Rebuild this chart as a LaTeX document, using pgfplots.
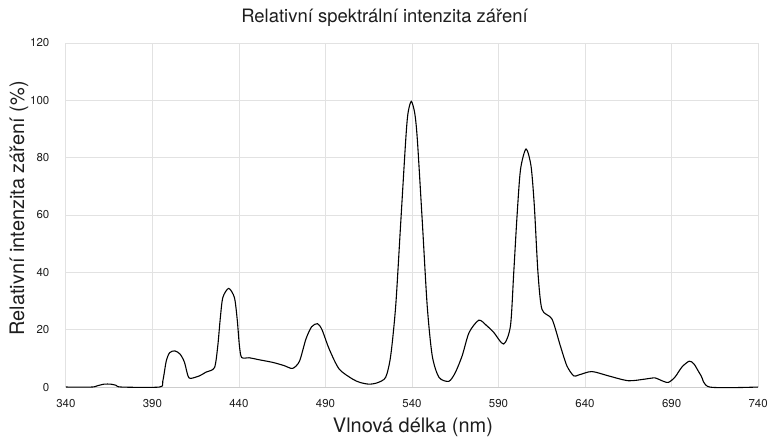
\documentclass[border=0pt]{standalone}
\usepackage{fontspec}
\setmainfont{TeX Gyre Heros}
\usepackage{pgfplots}
\pgfplotsset{compat=1.18}
\definecolor{gridc}{RGB}{226,226,226}
\definecolor{axc}{RGB}{205,205,205}
\definecolor{txt}{RGB}{30,30,30}
\begin{document}
\begin{tikzpicture}[x=1pt,y=1pt]
\path (0,0) rectangle (771,442);
\begin{axis}[
  at={(66pt,54pt)}, anchor=south west,
  scale only axis, width=694pt, height=345pt,
  xmin=340, xmax=740, ymin=0, ymax=120,
  xtick={340,390,...,740}, ytick={0,20,...,120},
  axis x line*=bottom, axis y line*=left,
  x axis line style={draw=axc, line width=0.8pt, -},
  y axis line style={draw=none},
  grid=major, major grid style={draw=gridc, line width=0.7pt},
  tick style={draw=none},
  /pgf/number format/assume math mode=true,
  ticklabel style={font=\fontsize{11.5}{13}\selectfont, text=txt},
  xticklabel style={anchor=center, yshift=-17pt},
  yticklabel style={anchor=east, xshift=-13pt},
  clip=false,
]
\addplot[black, line width=1.1pt, smooth, tension=0.45] coordinates {
(340,0) (355,0) (358,0.4) (362,1.0) (366,1.0) (369,0.6) (372,0) (394,0)
(396,2) (398,9) (400,12) (403,12.6) (406,11.5) (408.5,8.7) (410.5,4) (412,3.0)
(417.2,3.9) (421,5.2) (425.9,6.8) (427.8,14.4) (429.2,23.7) (430.7,31.2) (434.1,34.4)
(437.4,31.2) (439,23.7) (440.3,14.4) (441.6,10.3) (446,10.2) (451.8,9.5)
(459.5,8.6) (466,7.5) (471,6.5)
(475,9) (478.7,16.7) (482,21) (485.4,22.1) (488,20) (492.2,13.2) (497.9,6.3)
(505.6,2.8) (510,1.6) (515.2,1.0) (520,1.5) (524.8,3.4) (527.7,10.9)
(530.6,28.3) (533.5,57.3) (536.4,86.3) (537.7,95.5) (539.6,99.6) (541.6,95.5) (543.1,86.3)
(546,57.3) (548.8,28.3) (551.7,10.9) (555.6,3.4) (561.3,2.0) (565,5)
(569,10.9) (573,19) (578.6,23.3) (583,21.5) (587.3,19) (593,15)
(596.9,21.3) (598.8,39.9) (600.7,59.6) (602.7,75.8) (605.9,83.0) (608.8,77) (610.7,63.1)
(612.8,39.9) (615.1,27.1) (620.9,23.7) (625.7,14.4) (629.5,7.4)
(633.4,3.9) (636.3,4.2) (643.9,5.4) (653.5,3.9) (665,2.2) (675,2.8)
(680.4,3.2) (684,2.3) (688.1,1.6) (692,3.5) (696,7) (700.2,9.0) (703,8)
(707,4) (712.1,0) (740,0)
};
\end{axis}
\node[font=\fontsize{18.5}{22}\selectfont, text=txt] at (385.5,424) {Relativní spektrální intenzita záření};
\node[font=\fontsize{20}{24}\selectfont, text=txt] at (414,14) {Vlnová délka (nm)};
\node[font=\fontsize{20}{24}\selectfont, text=txt, rotate=90] at (19,233) {Relativní intenzita záření (\%)};
\end{tikzpicture}
\end{document}
